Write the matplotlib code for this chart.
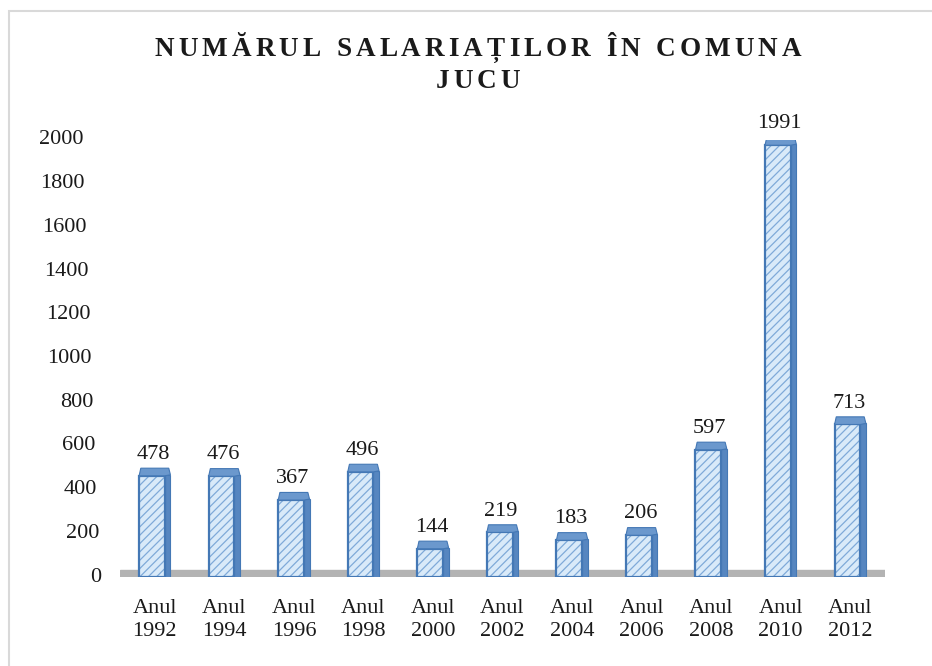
import matplotlib
matplotlib.use("Agg")
import matplotlib.pyplot as plt
import numpy as np
from matplotlib.patches import Rectangle, Polygon

# date
ani = ["1992", "1994", "1996", "1998", "2000", "2002", "2004", "2006", "2008", "2010", "2012"]
salariati = [478, 476, 367, 496, 144, 219, 183, 206, 597, 1991, 713]
yticks = [0, 200, 400, 600, 800, 1000, 1200, 1400, 1600, 1800, 2000]
titlu1 = "NUMĂRUL SALARIAȚILOR ÎN COMUNA"
titlu2 = "JUCU"

W, H = 932, 666
FONT = "Liberation Serif"
plt.rcParams['font.family'] = [FONT, 'DejaVu Serif']
plt.rcParams['hatch.linewidth'] = 0.9

fig = plt.figure(figsize=(W / 100, H / 100), dpi=100)
ax = fig.add_axes([120 / W, 89 / H, 765 / W, 437 / H])

x = np.arange(len(ani))
v = np.array(salariati)
front_w = 0.37
side_w = 0.08
cap_lo, cap_hi = 15, 20
FS = 16

light = '#d9eaf9'
hatchc = '#7faad8'
mid = '#6b98cd'
dark = '#4478b5'

# podeaua gri
ax.axhspan(-10, 30, color='#b3b3b3', zorder=1)

x_front = x - side_w / 2
# fata hasurata
ax.bar(x_front, v - cap_lo, width=front_w, color=light, edgecolor=hatchc,
       hatch='////', linewidth=0, zorder=2)
ax.bar(x_front, v - cap_lo, width=front_w, fill=False, edgecolor=dark,
       linewidth=1.6, zorder=3)
# fata laterala
ax.bar(x_front + front_w / 2 + side_w / 2, v - cap_lo + 5, width=side_w,
       color='#5686c0', edgecolor=dark, linewidth=0.8, zorder=2)
# capacul de sus
for xi, vi in zip(x_front, v):
    x0 = xi - front_w / 2
    x1 = xi + front_w / 2
    pts = [(x0, vi - cap_lo), (x1, vi - cap_lo), (x1 + side_w, vi - cap_lo + 5),
           (x1 + side_w * 0.7, vi + cap_hi), (x0 + side_w * 0.3, vi + cap_hi)]
    ax.add_patch(Polygon(pts, closed=True, facecolor=mid, edgecolor=dark,
                         linewidth=0.8, zorder=4))

for xi, vi in zip(x, v):
    ax.annotate(str(vi), (xi - 0.02, vi + cap_hi), xytext=(0, 3),
                textcoords='offset points', ha='center', va='bottom',
                fontsize=FS, color='#1a1a1a', annotation_clip=False)

ax.set_xlim(-0.5, len(ani) - 0.5)
ax.set_ylim(0, 2000)
ax.set_xticks(x)
ax.set_xticklabels(["Anul\n" + a for a in ani], fontsize=FS, color='#1a1a1a',
                   linespacing=1.3)
ax.tick_params(axis='x', length=0, pad=16)
ax.set_yticks([])
for s in ax.spines.values():
    s.set_visible(False)

# etichetele axei y, usor inclinate ca in original
for t in yticks:
    right_px = 101 - 18 * t / 2000
    ax.text((right_px - 120) / 765, t, str(t), transform=ax.get_yaxis_transform(),
            ha='right', va='center', fontsize=FS, color='#1a1a1a')

# titlu cu spatiere intre litere
renderer = fig.canvas.get_renderer()


def spaced(text, ypx, size, gap):
    widths = []
    for ch in text:
        if ch == ' ':
            widths.append(size * 0.4)
            continue
        t = fig.text(0, 0, ch, fontsize=size, fontweight='bold')
        widths.append(t.get_window_extent(renderer).width)
        t.remove()
    total = sum(widths) + gap * (len(text) - 1)
    xp = 478 - total / 2
    for ch, w in zip(text, widths):
        if ch != ' ':
            fig.text(xp / W, 1 - ypx / H, ch, fontsize=size, fontweight='bold',
                     ha='left', va='center', color='#1a1a1a')
        xp += w + gap


spaced(titlu1, 50, 19.5, 4.0)
spaced(titlu2, 81, 19.5, 4.0)

# chenar gri
fig.add_artist(Rectangle((9 / W, -0.1), 1.1, 1 - 11 / H + 0.1, transform=fig.transFigure,
                         fill=False, edgecolor='#d9d9d9', linewidth=1.5))

fig.savefig("out.png", dpi=100)
